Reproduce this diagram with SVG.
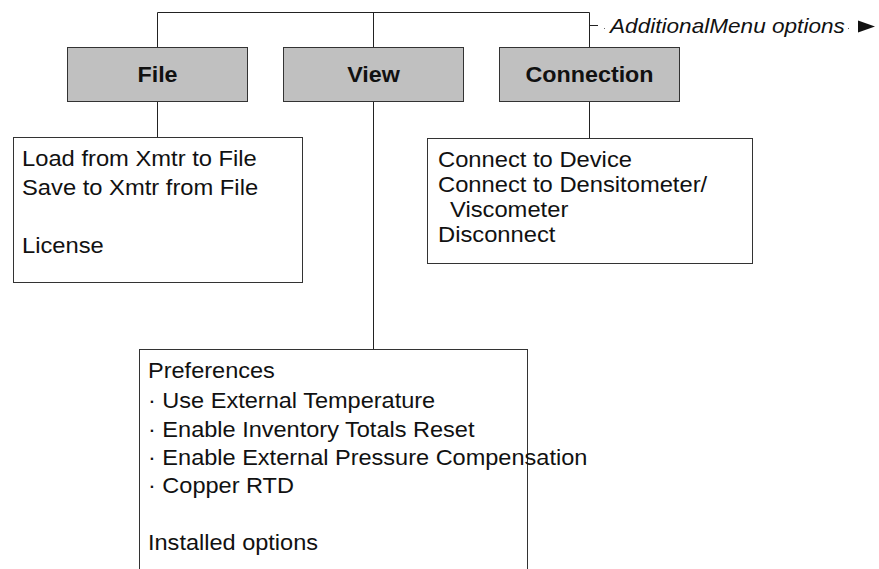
<svg xmlns="http://www.w3.org/2000/svg" width="879" height="569" viewBox="0 0 879 569">
<style>
  .ln{stroke:#222;stroke-width:1;fill:none}
  .btn{fill:#c0c0c0;stroke:#333;stroke-width:1}
  .box{fill:#fff;stroke:#333;stroke-width:1}
  text{font-family:"Liberation Sans",Arial,sans-serif;font-size:22px;fill:#111}
  .b{font-weight:bold;text-anchor:middle}
  .i{font-style:italic;font-size:20px}
</style>
<rect width="879" height="569" fill="#fff"/>
<g id="connectors">
  <path class="ln" d="M157.5 47V12.5H589.5V47"/>
  <path class="ln" d="M373.5 12.5V47"/>
  <path class="ln" d="M589.5 25.5H598"/>
  <path class="ln" d="M157.5 101V137"/>
  <path class="ln" d="M373.5 101V349"/>
  <path class="ln" d="M589.5 101V138"/>
</g>
<g id="additional">
  <rect x="604" y="28" width="1" height="1" fill="#666"/>
  <text class="i" transform="translate(610,32.5) scale(1.13,1)">AdditionalMenu options</text>
  <rect x="848" y="28" width="1" height="1" fill="#666"/>
  <polygon points="858,20.5 875,26.5 858,32.5" fill="#111"/>
</g>
<g id="file">
  <rect class="btn" x="67.5" y="47.5" width="180" height="54"/>
  <text class="b" transform="translate(157.5,82) scale(1.06,1)">File</text>
</g>
<g id="view">
  <rect class="btn" x="283.5" y="47.5" width="180" height="54"/>
  <text class="b" transform="translate(373.5,82) scale(1.06,1)">View</text>
</g>
<g id="connection">
  <rect class="btn" x="499.5" y="47.5" width="180" height="54"/>
  <text class="b" transform="translate(589.5,82) scale(1.06,1)">Connection</text>
</g>
<g id="file-menu">
  <rect class="box" x="13.5" y="137.5" width="289" height="145"/>
  <text transform="translate(22,166) scale(1.08,1)">Load from Xmtr to File</text>
  <text transform="translate(22,195) scale(1.08,1)">Save to Xmtr from File</text>
  <text transform="translate(22,253) scale(1.08,1)">License</text>
</g>
<g id="connection-menu">
  <rect class="box" x="427.5" y="138.5" width="325" height="125"/>
  <text transform="translate(438,167) scale(1.08,1)">Connect to Device</text>
  <text transform="translate(438,192) scale(1.08,1)">Connect to Densitometer/</text>
  <text transform="translate(450,217) scale(1.08,1)">Viscometer</text>
  <text transform="translate(438,242) scale(1.08,1)">Disconnect</text>
</g>
<g id="view-menu">
  <rect class="box" x="139.5" y="349.5" width="388" height="240"/>
  <text transform="translate(148,378) scale(1.07,1)">Preferences</text>
  <text transform="translate(148,408) scale(1.07,1)">· Use External Temperature</text>
  <text transform="translate(148,437) scale(1.07,1)">· Enable Inventory Totals Reset</text>
  <text transform="translate(148,465) scale(1.07,1)">· Enable External Pressure Compensation</text>
  <text transform="translate(148,493) scale(1.07,1)">· Copper RTD</text>
  <text transform="translate(148,550) scale(1.07,1)">Installed options</text>
</g>
</svg>
